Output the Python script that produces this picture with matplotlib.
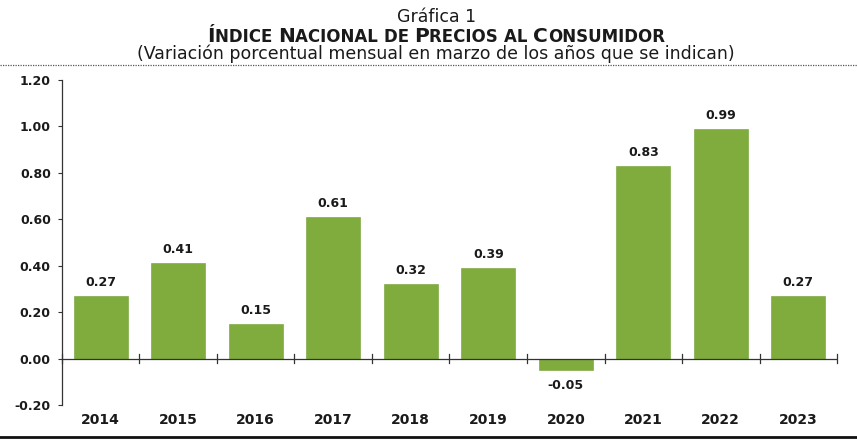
import numpy as np
import matplotlib
matplotlib.use("Agg")
import matplotlib.pyplot as plt
from matplotlib.lines import Line2D

# the scan is stretched sideways, DejaVu is wider than Arial so it comes closer
plt.rcParams['font.family'] = ['DejaVu Sans']

# data
years = ["2014", "2015", "2016", "2017", "2018", "2019", "2020", "2021", "2022", "2023"]
values = [0.27, 0.41, 0.15, 0.61, 0.32, 0.39, -0.05, 0.83, 0.99, 0.27]
y_ticks = [-0.20, 0.00, 0.20, 0.40, 0.60, 0.80, 1.00, 1.20]

BAR_COLOR = "#7fac3d"
TXT = "#1a1a1a"
CENTER_X = 0.509

fig = plt.figure(figsize=(8.57, 4.42), dpi=100)
ax = fig.add_axes([0.0723, 0.0837, 0.9044, 0.7353])

x = np.arange(len(years))
ax.bar(x, values, width=0.7, color=BAR_COLOR, edgecolor="#72a032", linewidth=0.4, zorder=2)

for xi, v in zip(x, values):
    if v >= 0:
        ax.annotate(f"{v:.2f}", (xi, v), xytext=(0, 5), textcoords="offset points",
                    ha="center", va="bottom", fontsize=9, fontweight="bold", color=TXT)
    else:
        ax.annotate(f"{v:.2f}", (xi, v), xytext=(0, -6), textcoords="offset points",
                    ha="center", va="top", fontsize=9, fontweight="bold", color=TXT)

ax.set_xlim(-0.5, len(years) - 0.5)
ax.set_ylim(-0.20, 1.20)
ax.set_yticks(y_ticks)
ax.set_yticklabels([f"{t:.2f}" for t in y_ticks], fontsize=9, fontweight="bold", color=TXT)
ax.tick_params(axis="y", direction="out", length=3, width=0.8, color="#333333", pad=5)

ax.set_xticks(x)
ax.set_xticklabels(years, fontsize=10, fontweight="bold", color=TXT)
ax.tick_params(axis="x", length=0, pad=6)

for s in ["top", "right", "bottom"]:
    ax.spines[s].set_visible(False)
ax.spines["left"].set_color("#333333")
ax.spines["left"].set_linewidth(0.9)

# zero line with category boundary ticks
ax.axhline(0, color="#333333", linewidth=0.9, zorder=3)
for b in np.arange(-0.5, len(years), 1.0):
    ax.plot([b, b], [-0.018, 0.018], color="#333333", linewidth=0.9, zorder=3, clip_on=False)

# titles
fig.text(CENTER_X, 0.950, "Gráfica 1", ha="center", va="baseline", fontsize=12.5, color=TXT)

# small caps title built from pieces
pieces = [("Í", 14.5), ("NDICE ", 12), ("N", 14.5), ("ACIONAL ", 12), ("DE ", 12),
          ("P", 14.5), ("RECIOS ", 12), ("AL ", 12), ("C", 14.5), ("ONSUMIDOR", 12)]
TITLE_Y = 0.906
texts = []
for s, size in pieces:
    t = fig.text(0, TITLE_Y, s.replace(" ", "\u00a0"), fontsize=size, fontweight="bold",
                 ha="left", va="baseline", color=TXT)
    texts.append(t)
fig.canvas.draw()
r = fig.canvas.get_renderer()
widths = [t.get_window_extent(r).width for t in texts]
cur_x = fig.bbox.width * CENTER_X - sum(widths) / 2
for t, w in zip(texts, widths):
    t.set_position((cur_x / fig.bbox.width, TITLE_Y))
    cur_x += w

fig.text(CENTER_X, 0.866, "(Variación porcentual mensual en marzo de los años que se indican)",
         ha="center", va="baseline", fontsize=12.5, color=TXT)

fig.add_artist(Line2D([0, 1], [0.854, 0.854], transform=fig.transFigure,
                      color="#555555", linewidth=0.9, linestyle=(0, (1, 1))))
fig.add_artist(Line2D([0, 1], [0.012, 0.012], transform=fig.transFigure,
                      color="#111111", linewidth=2.0))

fig.savefig("out.png", dpi=100)
